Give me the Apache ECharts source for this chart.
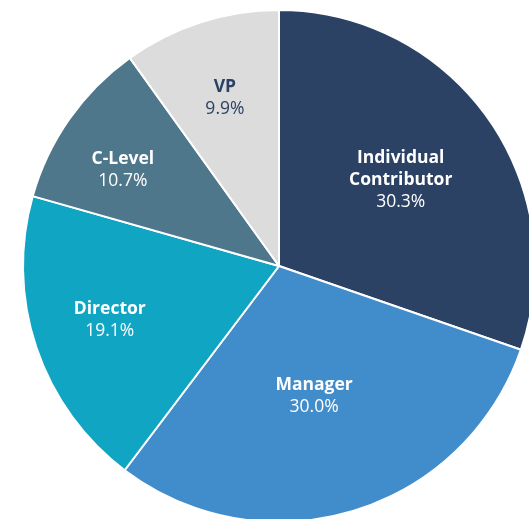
<!DOCTYPE html>
<html lang="en">
<head>
    <meta charset="UTF-8">
    <title>Pie</title>
    <script src="https://cdn.jsdelivr.net/npm/echarts@6/dist/echarts.min.js"></script>
    <style>
        html, body { margin: 0; padding: 0; background: #fff; }
        #pie_show { width: 529px; height: 519px; }
    </style>
</head>
<body>
    <div id="pie_show"></div>
    <script>
        // 数据
        var names = ['Individual\nContributor', 'Manager', 'Director', 'C-Level', 'VP'];
        var values = [30.3, 30.0, 19.1, 10.7, 9.9];

        var colors = ['#2b4265', '#418cca', '#11a5c4', '#4f778b', '#dcdcdc'];
        var textColors = ['#fff', '#fff', '#fff', '#fff', '#2b4265'];
        var labelOffsets = [[15, -10], [-3, 5], [-45, 12], [-49, -21], [-14, -43]];

        var myChart = echarts.init(document.getElementById('pie_show'));
        var data = [];
        for (var i = 0; i < names.length; i++) {
            data.push({
                name: names[i],
                value: values[i],
                itemStyle: { color: colors[i] },
                label: {
                    offset: labelOffsets[i],
                    rich: {
                        n: { color: textColors[i], fontWeight: 'bold', fontSize: 17.5, lineHeight: 22, fontFamily: 'Open Sans' },
                        p: { color: textColors[i], fontSize: 17.5, lineHeight: 22, fontFamily: 'Open Sans' }
                    }
                }
            });
        }

        var option = {
            animation: false,
            series: [{
                type: 'pie',
                center: [279, 266],
                radius: 256,
                startAngle: 90,
                clockwise: true,
                avoidLabelOverlap: false,
                itemStyle: { borderColor: '#fff', borderWidth: 2 },
                label: {
                    show: true,
                    position: 'inside',
                    align: 'center',
                    formatter: function (p) {
                        return '{n|' + p.name + '}\n{p|' + p.value.toFixed(1) + '%}';
                    }
                },
                labelLine: { show: false },
                data: data
            }]
        };
        myChart.setOption(option);
    </script>
</body>
</html>
